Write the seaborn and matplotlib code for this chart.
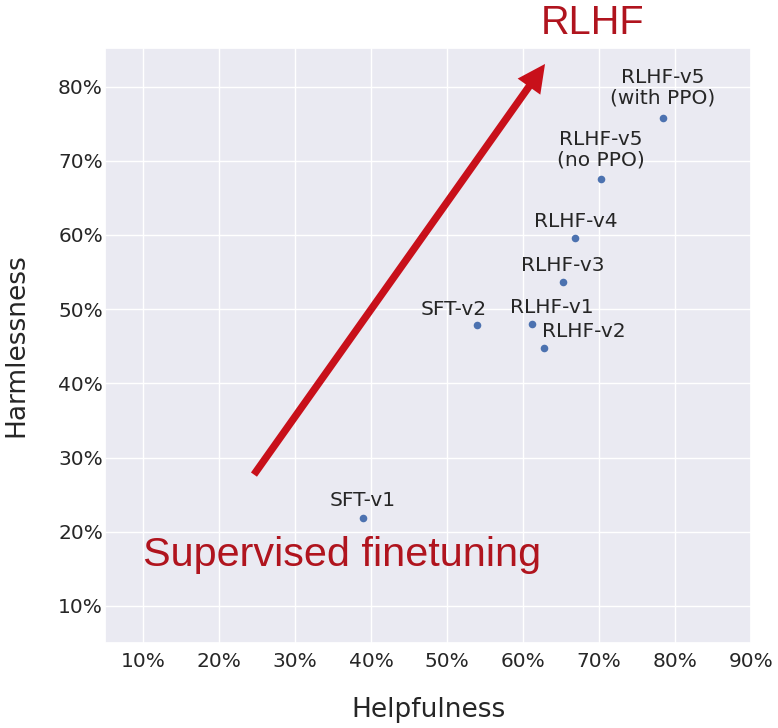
import matplotlib
matplotlib.use("Agg")
import matplotlib.pyplot as plt
from matplotlib.ticker import PercentFormatter
import seaborn as sns
import pandas as pd

# ---- data (percent) ----
models = ["SFT-v1", "SFT-v2", "RLHF-v1", "RLHF-v2", "RLHF-v3", "RLHF-v4",
          "RLHF-v5\n(no PPO)", "RLHF-v5\n(with PPO)"]
helpfulness = [38.9, 54.0, 61.2, 62.7, 65.2, 66.9, 70.2, 78.4]
harmlessness = [21.8, 47.9, 48.0, 44.7, 53.7, 59.6, 67.6, 75.8]
xticks = [10, 20, 30, 40, 50, 60, 70, 80, 90]
yticks = [10, 20, 30, 40, 50, 60, 70, 80]

df = pd.DataFrame({"model": models, "Helpfulness": helpfulness,
                   "Harmlessness": harmlessness})

sns.set_theme(style="darkgrid")
plt.rcParams["font.family"] = ["DejaVu Sans"]

fig = plt.figure(figsize=(7.78, 7.28), dpi=100)
ax = fig.add_axes([105 / 778, 1 - 643 / 728, (751 - 105) / 778, (643 - 48) / 728])

sns.scatterplot(data=df, x="Helpfulness", y="Harmlessness", ax=ax,
                color="#4C72B0", s=30, linewidth=0, zorder=3)

ax.set_xlim(5, 90)
ax.set_ylim(5, 85.2)
ax.set_xticks(xticks)
ax.set_yticks(yticks)
fmt = PercentFormatter(xmax=100, decimals=0)
ax.xaxis.set_major_formatter(fmt)
ax.yaxis.set_major_formatter(fmt)
ax.tick_params(axis="x", labelsize=14.5, pad=6.5, length=0, colors="#262626")
ax.tick_params(axis="y", labelsize=14.5, pad=1.5, length=0, colors="#262626")
ax.set_xlabel("Helpfulness", fontsize=19, color="#262626")
ax.set_ylabel("Harmlessness", fontsize=19, color="#262626")
ax.xaxis.set_label_coords(0.5, (643 - 710) / 595)
ax.xaxis.label.set_va("center")
ax.yaxis.set_label_coords((16 - 105) / 646, 0.5)
ax.yaxis.label.set_va("center")

# label offsets in pixels (dx, dy of baseline above point)
offsets = {
    "SFT-v1": (0, 12), "SFT-v2": (-24, 10), "RLHF-v1": (20, 11),
    "RLHF-v2": (40, 11), "RLHF-v3": (0, 11), "RLHF-v4": (0, 11),
    "RLHF-v5\n(no PPO)": (0, 13), "RLHF-v5\n(with PPO)": (0, 14),
}
for m, hx, hy in zip(models, helpfulness, harmlessness):
    dx, dy = offsets[m]
    ax.annotate(m, xy=(hx, hy), xytext=(dx, dy), textcoords="offset pixels",
                ha="center", va="baseline", fontsize=14.5, color="#262626",
                multialignment="center", linespacing=1.1, zorder=4)

# red arrow
ax.annotate("", xy=(62.9, 83.05), xytext=(24.6, 27.7),
            arrowprops=dict(arrowstyle="simple,head_length=20,head_width=20,tail_width=5.3",
                            mutation_scale=1, color="#C8101A", lw=0,
                            shrinkA=0, shrinkB=0), zorder=2)

ax.text(69.2, 87.1, "RLHF", color="#B0141E", fontsize=28.5,
        family="Liberation Sans", ha="center", va="baseline", clip_on=False)
ax.text(9.95, 15.4, "Supervised finetuning", color="#B0141E", fontsize=29.8,
        family="Liberation Sans", ha="left", va="baseline")

fig.savefig("out.png", dpi=100)
